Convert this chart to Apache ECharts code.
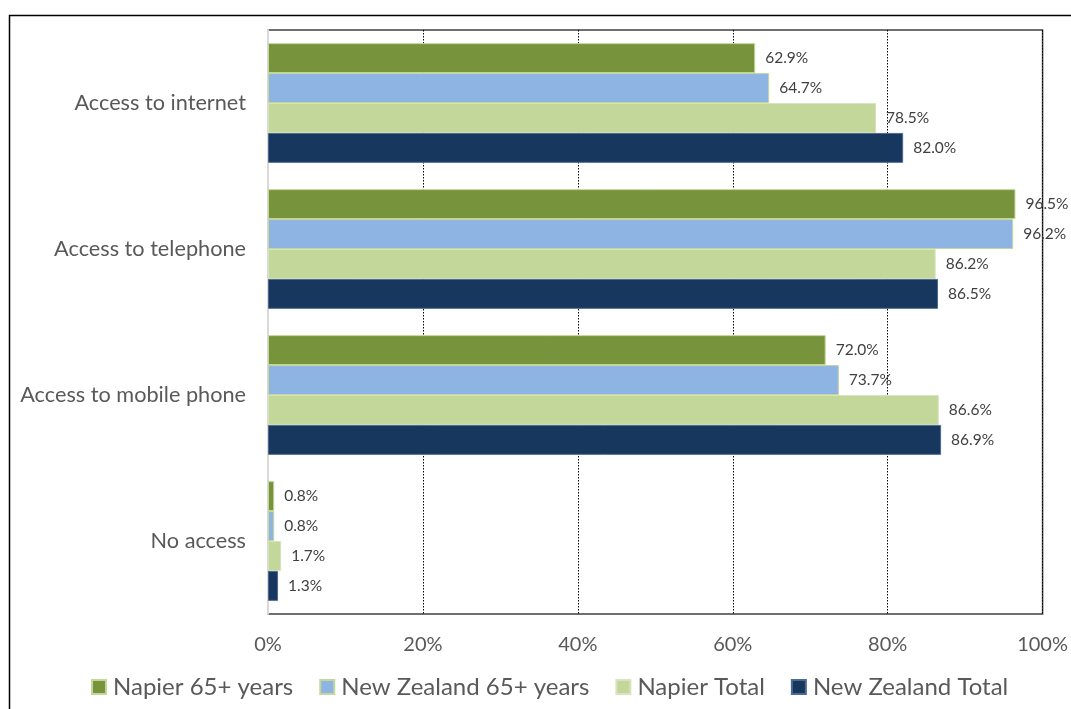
<!DOCTYPE html>
<html><head><meta charset="utf-8">
<script src="https://cdn.jsdelivr.net/npm/echarts@6/dist/echarts.min.js"></script>
<style>html,body{margin:0;padding:0;background:#fff}#c{width:1071px;height:709px}</style>
</head><body><div id="c"></div>
<script>
const categories = ['Access to internet', 'Access to telephone', 'Access to mobile phone', 'No access'];
const seriesNames = ['Napier 65+ years', 'New Zealand 65+ years', 'Napier Total', 'New Zealand Total'];
const napier65 = [62.9, 96.5, 72.0, 0.8];
const nz65 = [64.7, 96.2, 73.7, 0.8];
const napierTotal = [78.5, 86.2, 86.6, 1.7];
const nzTotal = [82.0, 86.5, 86.9, 1.3];
const xTicks = [0, 20, 40, 60, 80, 100];

const colors = ['#77933C', '#8EB4E3', '#C4D79B', '#17375E'];
const borders = ['#C4D79B', '#C4D79B', '#D7E4BD', '#4F6A8F'];
const values = [napier65, nz65, napierTotal, nzTotal];
const FONT = 'Lato, "Open Sans", sans-serif';

const chart = echarts.init(document.getElementById('c'), null, {renderer: 'canvas'});
chart.setOption({
  animation: false,
  textStyle: {fontFamily: FONT},
  graphic: [{
    type: 'rect', shape: {x: 9.5, y: 15.5, width: 1100, height: 800},
    style: {fill: 'none', stroke: '#000', lineWidth: 1.5}, z: 100, silent: true
  }],
  grid: {left: 268, right: 28, top: 30, bottom: 95, show: true, borderColor: '#404040', borderWidth: 1.5},
  legend: {
    bottom: 5, left: 86, itemWidth: 14, itemHeight: 14, itemGap: 26,
    icon: 'rect',
    textStyle: {fontSize: 24, color: '#595959', fontFamily: FONT, padding: [0, 0, 0, 2]},
    data: seriesNames
  },
  xAxis: {
    type: 'value', min: 0, max: 100, interval: 20,
    axisLine: {show: false}, axisTick: {show: false},
    axisLabel: {fontSize: 20, color: '#595959', margin: 21, fontFamily: FONT,
      formatter: v => xTicks.includes(v) ? v + '%' : ''},
    splitLine: {show: true, lineStyle: {color: '#000', type: [1.5, 1.5], width: 1}}
  },
  yAxis: {
    type: 'category', data: categories, inverse: true,
    axisLine: {show: true, lineStyle: {color: '#D9D9D9', width: 2}},
    axisTick: {show: false},
    axisLabel: {fontSize: 21.7, color: '#595959', margin: 22, fontFamily: FONT, padding: [3, 0, 0, 0]},
  },
  series: seriesNames.map((n, i) => ({
    name: n, type: 'bar', data: values[i],
    barGap: '0%', barCategoryGap: '18%',
    itemStyle: {color: colors[i], borderColor: borders[i], borderWidth: 1},
    label: {show: true, position: 'right', distance: 10, fontSize: 15.5, color: '#404040', fontFamily: FONT,
      padding: [2, 0, 0, 0],
      formatter: p => p.value.toFixed(1) + '%'}
  }))
});
</script></body></html>
